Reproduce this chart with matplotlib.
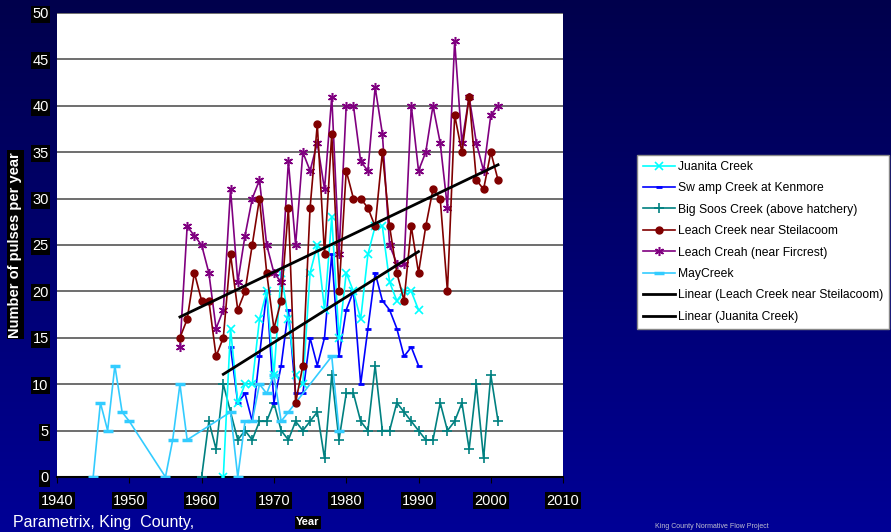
import numpy as np
import matplotlib
matplotlib.use("Agg")
import matplotlib.pyplot as plt

plt.rcParams["font.family"] = ["Liberation Sans", "DejaVu Sans"]

# pulse counts per year
juanita_years = [1963, 1964, 1965, 1966, 1967, 1968, 1969, 1970, 1971, 1972, 1973, 1974,
                 1975, 1976, 1977, 1978, 1979, 1980, 1981, 1982, 1983, 1984, 1985, 1986,
                 1987, 1988, 1989, 1990]
juanita = [0, 16, 8, 10, 10, 17, 20, 11, 22, 17, 11, 10,
           22, 25, 18, 28, 15, 22, 20, 17, 24, 27, 27, 21,
           19, 20, 20, 18]

swamp_years = list(range(1964, 1991))
swamp = [14, 8, 9, 6, 13, 20, 8, 12, 18, 9, 9, 15, 12, 15, 24, 13, 18, 20, 10, 16,
         22, 19, 18, 16, 13, 14, 12]

soos_years = list(range(1960, 2002))
soos = [0, 6, 3, 10, 7, 4, 5, 4, 6, 6, 8, 5, 4, 6, 5, 6, 7, 2, 11, 4, 9, 9, 6, 5, 12,
        5, 5, 8, 7, 6, 5, 4, 4, 8, 5, 6, 8, 3, 10, 2, 11, 6]

steil_years = list(range(1957, 2002))
steil = [15, 17, 22, 19, 19, 13, 15, 24, 18, 20, 25, 30, 22, 16, 19, 29, 8, 12, 29, 38,
         24, 37, 20, 33, 30, 30, 29, 27, 35, 27, 22, 19, 27, 22, 27, 31, 30, 20, 39, 35,
         41, 32, 31, 35, 32]

fircrest_years = list(range(1957, 2002))
fircrest = [14, 27, 26, 25, 22, 16, 18, 31, 21, 26, 30, 32, 25, 22, 21, 34, 25, 35, 33, 36,
            31, 41, 24, 40, 40, 34, 33, 42, 37, 25, 23, 23, 40, 33, 35, 40, 36, 29, 47, 36,
            41, 36, 33, 39, 40]

may_years = [1945, 1946, 1947, 1948, 1949, 1950, 1955, 1956, 1957, 1958, 1964, 1965,
             1966, 1967, 1968, 1969, 1970, 1971, 1972, 1978, 1979]
may = [0, 8, 5, 12, 7, 6, 0, 4, 10, 4, 7, 0, 6, 6, 10, 9, 11, 6, 7, 13, 5]

x_ticks = [1940, 1950, 1960, 1970, 1980, 1990, 2000, 2010]
y_ticks = [0, 5, 10, 15, 20, 25, 30, 35, 40, 45, 50]

fig = plt.figure(figsize=(8.91, 5.32), dpi=100)

# navy gradient background
bg = fig.add_axes([0, 0, 1, 1], zorder=-10)
grad = np.linspace(0, 1, 256).reshape(-1, 1)
cmap = matplotlib.colors.LinearSegmentedColormap.from_list("bg", ["#00004C", "#000096"])
bg.imshow(grad, aspect="auto", cmap=cmap, extent=[0, 1, 0, 1])
bg.axis("off")

ax = fig.add_axes([0.064, 0.1034, 0.568, 0.8722])
ax.set_facecolor("white")

ax.plot(juanita_years, juanita, color="#00FFFF", lw=1.2, marker="x", ms=6, mew=1.2,
        label="Juanita Creek", zorder=5)
ax.plot(swamp_years, swamp, color="#0000FF", lw=1.2, marker="_", ms=5, mew=2,
        label="Sw amp Creek at Kenmore", zorder=4)
ax.plot(soos_years, soos, color="#008080", lw=1.2, marker="+", ms=7, mew=1.2,
        label="Big Soos Creek (above hatchery)", zorder=3)
ax.plot(steil_years, steil, color="#800000", lw=1.2, marker="o", ms=5,
        label="Leach Creek near Steilacoom", zorder=6)
ax.plot(fircrest_years, fircrest, color="#800080", lw=1.2, marker=(6, 2, 0), ms=6.5, mew=1.1,
        label="Leach Creah (near Fircrest)", zorder=5)
ax.plot(may_years, may, color="#33CCFF", lw=1.2, marker="_", ms=7, mew=2.5,
        label="MayCreek", zorder=4)

# linear trendlines fitted to the two series
p1 = np.polyfit(steil_years, steil, 1)
xs1 = np.array([steil_years[0], steil_years[-1]])
ax.plot(xs1, np.polyval(p1, xs1), color="black", lw=2,
        label="Linear (Leach Creek near Steilacoom)", zorder=7)
p2 = np.polyfit(juanita_years, juanita, 1)
xs2 = np.array([juanita_years[0], juanita_years[-1]])
ax.plot(xs2, np.polyval(p2, xs2), color="black", lw=2,
        label="Linear (Juanita Creek)", zorder=7)

ax.set_xlim(1940, 2010)
ax.set_ylim(0, 50)
ax.set_xticks(x_ticks)
ax.set_yticks(y_ticks)
ax.yaxis.grid(True, color="#555555", lw=1.2)
ax.set_axisbelow(True)
for s in ["top", "right", "left"]:
    ax.spines[s].set_visible(False)
ax.spines["bottom"].set_color("black")
ax.spines["bottom"].set_linewidth(1.5)
ax.tick_params(axis="y", length=0, pad=6)
ax.tick_params(axis="x", direction="out", length=4, color="black", pad=8)

box = dict(facecolor="black", edgecolor="none", pad=1.0)
for lab in ax.get_yticklabels() + ax.get_xticklabels():
    lab.set_color("white")
    lab.set_fontsize(10.5)
    lab.set_bbox(box)

fig.text(0.017, 0.54, "Number of pulses per year", rotation=90, color="white",
         fontsize=10.5, fontweight="bold", ha="center", va="center", bbox=box)
fig.text(0.3457, 0.018, "Year", color="white", fontsize=8, fontweight="bold",
         ha="center", va="center", bbox=box)
fig.text(0.015, 0.018, "Parametrix, King  County,", color="white", fontsize=11.5,
         ha="left", va="center")
fig.text(0.735, 0.003, "King County Normative Flow Project", color="#c0c0d0", fontsize=5,
         ha="left", va="bottom")

leg = fig.legend(loc="upper left", bbox_to_anchor=(0.715, 0.709), fontsize=8.7,
                 frameon=True, fancybox=False, borderaxespad=0, labelspacing=0.78,
                 handlelength=2.6, handletextpad=0.3, borderpad=0.5)
leg.get_frame().set_edgecolor("#888888")
leg.get_frame().set_facecolor("white")
leg.get_frame().set_alpha(1)

fig.savefig("out.png", dpi=100)
